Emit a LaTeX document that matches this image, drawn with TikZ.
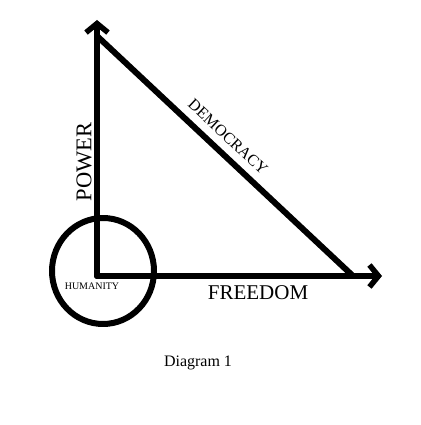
\documentclass[tikz,border=0pt]{standalone}
\usepackage{fontspec}
\usepackage{graphicx}
\setmainfont{Liberation Serif}
\usetikzlibrary{arrows.meta,shapes.geometric,calc}
\begin{document}
\begin{tikzpicture}[x=1pt,y=1pt,
  stroke/.style={line width=6pt,line cap=round,line join=round},
  tip/.style={-{Straight Barb[length=9pt,width=22pt,line width=5.5pt]}},
  lbl/.style={inner sep=0pt,font=\fontsize{#1}{#1}\selectfont},
]
\useasboundingbox[fill=white] (0,0) rectangle (420,425);
\coordinate (o) at (97,149);
\coordinate (top) at (97,405);
\coordinate (right) at (382,149);
\coordinate (dtop) at (97,389);
\coordinate (dend) at (353,149);
\draw[stroke,tip] (o) -- (top);
\draw[stroke,tip] (o) -- (right);
\draw[stroke] (dtop) -- (dend);
\node[draw,stroke,ellipse,minimum width=102pt,minimum height=106pt,inner sep=0pt] (hum) at (103,154) {};
\node[lbl=10] (humt) at (92,139) {HUMANITY};
\node[lbl=22.5] (power) at (84,263) {\rotatebox{90}{POWER}};
\node[lbl=16] (dem) at (228,288) {\rotatebox{-43}{DEMOCRACY}};
\node[lbl=21] (free) at (258,132.5) {FREEDOM};
\node[lbl=16] (cap) at (198,62) {Diagram 1};
\end{tikzpicture}
\end{document}
